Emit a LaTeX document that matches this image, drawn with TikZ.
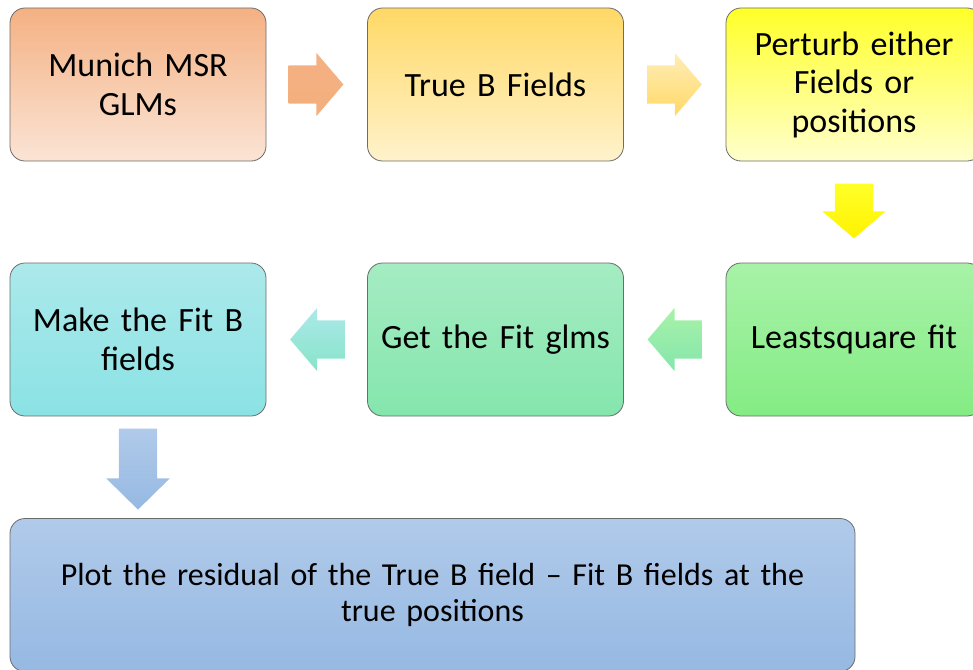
\documentclass[tikz,border=0pt]{standalone}
\usepackage{fontspec}
\setmainfont{Carlito}
\usetikzlibrary{positioning,shapes.arrows}
\tikzset{>=latex}

\definecolor{munichtop}{RGB}{244,177,131}
\definecolor{munichbot}{RGB}{251,228,213}
\definecolor{truebtop}{RGB}{255,217,102}
\definecolor{truebbot}{RGB}{255,242,204}
\definecolor{perturbtop}{RGB}{255,255,40}
\definecolor{perturbbot}{RGB}{255,255,205}
\definecolor{makefittop}{RGB}{172,233,235}
\definecolor{makefitbot}{RGB}{138,226,228}
\definecolor{getfittop}{RGB}{165,236,195}
\definecolor{getfitbot}{RGB}{132,230,172}
\definecolor{lsqtop}{RGB}{168,242,168}
\definecolor{lsqbot}{RGB}{132,236,132}
\definecolor{plottop}{RGB}{176,202,234}
\definecolor{plotbot}{RGB}{150,185,226}

\tikzset{
    stepbox/.style={draw=gray!85!black,line width=0.8pt,rounded corners=15pt,
        minimum width=256pt,minimum height=153pt,text width=240pt,align=center,
        font=\fontsize{34}{38.5}\selectfont},
    blockarrow/.style={single arrow,draw=none,inner sep=19pt,
        minimum height=54pt,single arrow head extend=12.5pt,single arrow tip angle=99}
}

\begin{document}
\begin{tikzpicture}[x=1pt,y=-1pt]

        \useasboundingbox (0,0) rectangle (973,669);

        % nodes
        \node [stepbox,top color=munichtop,bottom color=munichbot] (munich) at (138,84.5) {Munich MSR\\GLMs};
        \node [stepbox,top color=truebtop,bottom color=truebbot] (trueb) at (495.5,84.5) {True B Fields};
        \node [stepbox,top color=perturbtop,bottom color=perturbbot] (perturb) at (854,84.5) {Perturb either\\Fields or\\positions};
        \node [stepbox,top color=makefittop,bottom color=makefitbot] (makefit) at (138,339.5) {Make the Fit B\\fields};
        \node [stepbox,top color=getfittop,bottom color=getfitbot] (getfit) at (495.5,339.5) {Get the Fit glms};
        \node [stepbox,top color=lsqtop,bottom color=lsqbot] (lsq) at (854,339.5) {Leastsquare fit};
        \node [stepbox,top color=plottop,bottom color=plotbot,minimum width=845pt,text width=820pt,
            font=\fontsize{32}{36}\selectfont] (plot) at (432.5,595) {Plot the residual of the True B field -- Fit B fields at the\\true positions};

        % arrows
        \node [blockarrow,top color=munichtop,bottom color=munichtop!95!orange,right=22pt of munich] (a1) {};
        \node [blockarrow,top color=truebbot!80!truebtop,bottom color=truebtop,right=23pt of trueb] (a2) {};
        \node [blockarrow,shape border rotate=270,top color=perturbtop,bottom color=yellow!90!orange,below=22pt of perturb] (a3) {};
        \node [blockarrow,shape border rotate=180,top color=lsqtop,bottom color=getfitbot,left=23pt of lsq] (a4) {};
        \node [blockarrow,shape border rotate=180,top color=makefittop,bottom color=getfitbot!50!makefitbot,left=22pt of getfit] (a5) {};
        \node [blockarrow,shape border rotate=270,minimum height=81pt,single arrow tip angle=91,top color=plottop,bottom color=plotbot,below=12pt of makefit] (a6) {};

    \end{tikzpicture}
\end{document}
